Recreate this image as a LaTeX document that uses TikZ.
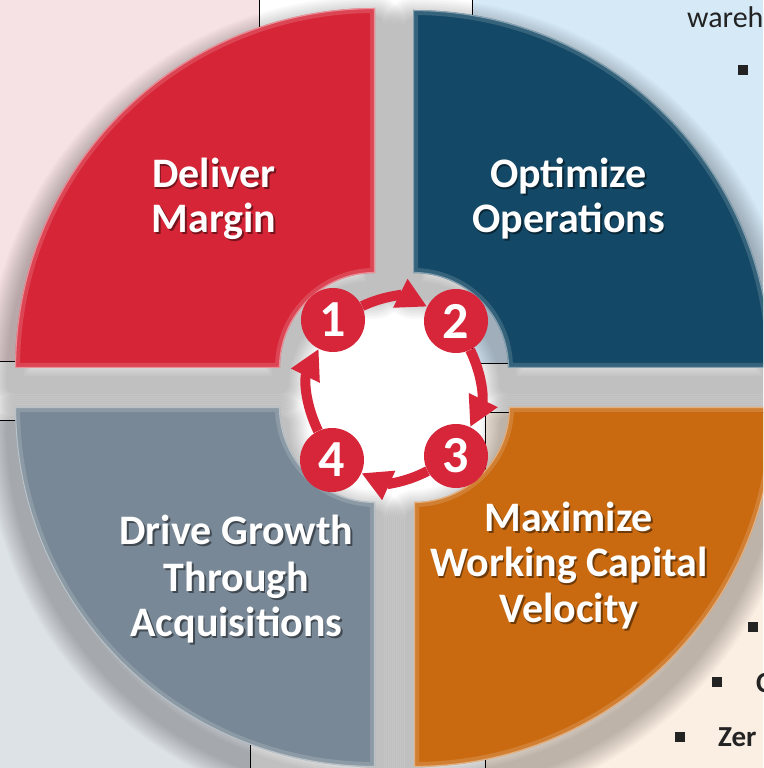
\documentclass[tikz,border=0pt]{standalone}
\usepackage{fontspec}
\setmainfont{Carlito}
\usetikzlibrary{arrows.meta}

\definecolor{qred}{HTML}{D62536}
\definecolor{qblue}{HTML}{134866}
\definecolor{qgray}{HTML}{788896}
\definecolor{qorange}{HTML}{CA6A10}
\definecolor{bgpink}{HTML}{F6E2E4}
\definecolor{bgblue}{HTML}{D5E9F7}
\definecolor{bggray}{HTML}{DDE2E7}
\definecolor{bgpeach}{HTML}{FBEFE3}
\definecolor{badgered}{HTML}{D7263A}
\definecolor{inktext}{HTML}{232323}

% the four ring segments (outer radius 360, inner radius 95)
\newcommand\segRed{(15,400) arc[start angle=180,end angle=90,radius=360] -- (375,495) arc[start angle=90,end angle=180,radius=95] -- cycle}
\newcommand\segBlue{(413,758) arc[start angle=90,end angle=0,radius=358] -- (508,400) arc[start angle=0,end angle=90,radius=95] -- cycle}
\newcommand\segGray{(15,361) -- (280,361) arc[start angle=180,end angle=270,radius=95] -- (375,1) arc[start angle=270,end angle=180,radius=360] -- cycle}
\newcommand\segOrange{(414,266) arc[start angle=270,end angle=360,radius=95] -- (774,361) arc[start angle=0,end angle=-90,radius=360] -- cycle}

% soft drop shadow under a segment
\newcommand\segShadow[1]{%
  \foreach \w in {18,22,...,58}{%
    \draw[black, opacity=0.025, line width=\w, line join=round, shift={(0,-17)}] #1;}}
% segment body with a light bevelled rim
\newcommand\segBody[2]{%
  \fill[#2] #1;
  \begin{scope}
    \clip #1;
    \draw[#2!50!white, line width=10, opacity=0.3, line join=round] #1;
    \draw[white, line width=2.2, opacity=0.4, line join=round] #1;
  \end{scope}}
% white label line with a dark offset shadow
\newcommand\segText[4]{%
  \node[qshade] (#1-s) at (#2+1.6,#3-1.6) {#4};
  \node[qlabel] (#1) at (#2,#3) {#4};}

\tikzset{
  qlabel/.style={anchor=base, inner sep=0pt, text=white,
    font=\fontsize{42}{45}\selectfont\bfseries},
  qshade/.style={qlabel, text=black, opacity=0.45},
  badge/.style={circle, fill=badgered, minimum size=64pt, inner sep=0pt,
    text=white, font=\fontsize{52}{52}\selectfont\bfseries},
  cyc/.style={draw=badgered, line width=10pt,
    -{Triangle[length=30pt,width=30pt]}},
  panel/.style={draw=black, line width=0.8pt},
  bulletsq/.style={rectangle, fill=inktext, minimum size=9.5pt, inner sep=0pt},
  sidetext/.style={anchor=base west, inner sep=0pt, text=inktext,
    font=\fontsize{30}{30}\selectfont},
  sidebold/.style={sidetext, font=\fontsize{29}{29}\selectfont\bfseries}
}

\begin{document}
\begin{tikzpicture}[x=1pt,y=1pt]
\useasboundingbox (0,0) rectangle (763,768);
\clip (0,0) rectangle (763,768);
\fill[white] (0,0) rectangle (763,768);

% background panels
\filldraw[panel, fill=bgpink]  (-5,407) rectangle (259,773);
\filldraw[panel, fill=bgblue]  (472,405) rectangle (770,773);
\filldraw[panel, fill=bggray]  (-5,-5) rectangle (250,348);
\filldraw[panel, fill=bgpeach] (485,-5) rectangle (770,356);

% side texts and bullets
\node[sidetext] (tw) at (687,740) {wareh};
\node[bulletsq] (b0) at (743,698) {};
\node[bulletsq] (b1) at (753,141) {};
\node[bulletsq] (b2) at (717,86) {};
\node[sidebold] (tc) at (756,75) {C};
\node[bulletsq] (b3) at (680,31) {};
\node[sidebold] (tz) at (718,21) {Zer};

% shadows
\segShadow{\segRed}
\segShadow{\segBlue}
\segShadow{\segGray}
\segShadow{\segOrange}

% segments
\segBody{\segRed}{qred}
\segBody{\segBlue}{qblue}
\segBody{\segGray}{qgray}
\segBody{\segOrange}{qorange}

% segment labels
\segText{l1a}{214}{580}{Deliver}
\segText{l1b}{214}{535}{Margin}
\segText{l2a}{568.5}{580}{Optimize}
\segText{l2b}{568.5}{535}{Operations}
\segText{l4a}{236.5}{223}{Drive Growth}
\segText{l4b}{236.5}{176}{Through}
\segText{l4c}{236.5}{131}{Acquisitions}
\segText{l3a}{569}{236}{Maximize}
\segText{l3b}{569}{191}{Working Capital}
\segText{l3c}{569}{145}{Velocity}

% numbered cycle
\node[badge] (n1) at (333,448) {1};
\node[badge] (n2) at (456,447) {2};
\node[badge] (n3) at (456,312) {3};
\node[badge] (n4) at (332,308) {4};
\draw[cyc] (n1) to[bend left=26] (n2);
\draw[cyc] (n2) to[bend left=26] (n3);
\draw[cyc] (n3) to[bend left=26] (n4);
\draw[cyc] (n4) to[bend left=26] (n1);
\end{tikzpicture}
\end{document}
